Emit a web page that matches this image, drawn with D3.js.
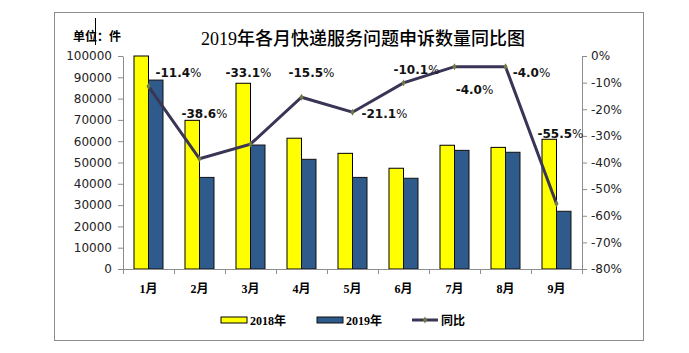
<!DOCTYPE html>
<html>
<head>
<meta charset="utf-8">
<script src="https://cdn.jsdelivr.net/npm/d3@7"></script>
<style>
  body { margin: 0; background: #fff; }
  svg text { font-family: "DejaVu Sans", sans-serif; }
</style>
</head>
<body>
<svg id="SVG_CONTAINER" width="689" height="353"></svg>
<script>
// data
const months = ["1月", "2月", "3月", "4月", "5月", "6月", "7月", "8月", "9月"];
const values2018 = [100000, 69800, 87200, 61400, 54300, 47300, 58100, 57100, 60900];
const values2019 = [88700, 43000, 58200, 51500, 43000, 42600, 55700, 54800, 27100];
const yoy = [-11.4, -38.6, -33.1, -15.5, -21.1, -10.1, -4.0, -4.0, -55.5];
const leftTicks = [0, 10000, 20000, 30000, 40000, 50000, 60000, 70000, 80000, 90000, 100000];
const rightTicks = [0, -10, -20, -30, -40, -50, -60, -70, -80];
const seriesNames = ["2018年", "2019年", "同比"];

// hand placed label offsets (dx, dy from point), like in the original
const labelOffsets = [[30, -9], [5, -41], [-2, -67], [10, -20], [32, 6], [13, -9], [20, 27], [26, 10], [4, -66]];

const MARGIN = {LEFT: 123, RIGHT: 107, TOP: 56, BOTTOM: 84};
const width = 689, height = 353;

let svg = d3.select("#SVG_CONTAINER");

// outer frame
svg.append("rect")
    .attr("x", 54.5).attr("y", 12.5)
    .attr("width", 589).attr("height", 328)
    .attr("fill", "#fff")
    .attr("stroke", "#8c8c8c");

//** SCALES *****************************************
let xScale = d3.scaleBand()
    .domain(months)
    .range([MARGIN.LEFT, width - MARGIN.RIGHT]);

let yScale = d3.scaleLinear()
    .domain([0, 100000])
    .range([height - MARGIN.BOTTOM, MARGIN.TOP]);

let y2Scale = d3.scaleLinear()
    .domain([-80, 0])
    .range([height - MARGIN.BOTTOM, MARGIN.TOP]);

let barW = 14.5;

//** BARS *****************************************
svg.append("g").selectAll("rect")
    .data(values2018)
    .enter().append("rect")
    .attr("x", (d, i) => xScale(months[i]) + xScale.bandwidth() / 2 - barW)
    .attr("y", d => yScale(d))
    .attr("width", barW)
    .attr("height", d => yScale(0) - yScale(d))
    .attr("fill", "#ffff00")
    .attr("stroke", "#000")
    .attr("stroke-width", 1);

svg.append("g").selectAll("rect")
    .data(values2019)
    .enter().append("rect")
    .attr("x", (d, i) => xScale(months[i]) + xScale.bandwidth() / 2)
    .attr("y", d => yScale(d))
    .attr("width", barW)
    .attr("height", d => yScale(0) - yScale(d))
    .attr("fill", "#2f5b8c")
    .attr("stroke", "#111")
    .attr("stroke-width", 1);

//** AXES *****************************************
let leftAxis = svg.append("g")
    .attr("transform", "translate(" + MARGIN.LEFT + ",0)")
    .call(d3.axisLeft(yScale).tickValues(leftTicks).tickSize(5).tickSizeOuter(0).tickPadding(6)
        .tickFormat(d3.format("d")));

let rightAxis = svg.append("g")
    .attr("transform", "translate(" + (width - MARGIN.RIGHT) + ",0)")
    .call(d3.axisRight(y2Scale).tickValues(rightTicks).tickSize(5).tickSizeOuter(0).tickPadding(4)
        .tickFormat(d => d + "%"));

[leftAxis, rightAxis].forEach(a => {
    a.selectAll("path, line").attr("stroke", "#8c8c8c");
    a.selectAll("text")
        .style("font-family", "'DejaVu Sans', sans-serif")
        .style("font-size", "12px")
        .attr("fill", "#222");
});

// x axis: line with ticks at category boundaries
let xAxisG = svg.append("g");
xAxisG.append("line")
    .attr("x1", MARGIN.LEFT).attr("x2", width - MARGIN.RIGHT)
    .attr("y1", yScale(0) + 0.5).attr("y2", yScale(0) + 0.5)
    .attr("stroke", "#8c8c8c");
xAxisG.selectAll(".xtick")
    .data(months.concat(["end"]))
    .enter().append("line")
    .attr("x1", (d, i) => MARGIN.LEFT + i * xScale.bandwidth() + 0.5)
    .attr("x2", (d, i) => MARGIN.LEFT + i * xScale.bandwidth() + 0.5)
    .attr("y1", yScale(0))
    .attr("y2", yScale(0) + 5)
    .attr("stroke", "#8c8c8c");
xAxisG.selectAll(".xlabel")
    .data(months)
    .enter().append("text")
    .attr("x", d => xScale(d) + xScale.bandwidth() / 2)
    .attr("y", yScale(0) + 24)
    .attr("text-anchor", "middle")
    .style("font-family", "'Liberation Serif', 'Noto Sans CJK SC', serif")
    .style("font-size", "12px")
    .style("font-weight", "bold")
    .text(d => d);

//** LINE *****************************************
let cx = (d, i) => xScale(months[i]) + xScale.bandwidth() / 2;
let line = d3.line()
    .x(cx)
    .y(d => y2Scale(d));

svg.append("path")
    .datum(yoy)
    .attr("d", line)
    .attr("fill", "none")
    .attr("stroke", "#3a3455")
    .attr("stroke-width", 3);

svg.append("g").selectAll("path")
    .data(yoy)
    .enter().append("path")
    .attr("d", d3.symbol(d3.symbolDiamond, 14))
    .attr("transform", (d, i) => "translate(" + cx(d, i) + "," + y2Scale(d) + ")")
    .attr("fill", "#6e7d44");

// data labels
svg.append("g").selectAll("text")
    .data(yoy)
    .enter().append("text")
    .attr("x", (d, i) => cx(d, i) + labelOffsets[i][0])
    .attr("y", (d, i) => y2Scale(d) + labelOffsets[i][1])
    .attr("text-anchor", "middle")
    .style("font-size", "12px")
    .attr("fill", "#111")
    .html(d => '<tspan font-weight="bold">' + d.toFixed(1) + '</tspan>%');

//** TITLE *****************************************
svg.append("text")
    .attr("x", 363).attr("y", 45)
    .attr("text-anchor", "middle")
    .style("font-family", "'Liberation Serif', 'Noto Sans CJK SC', serif")
    .style("font-size", "18px")
    .style("font-weight", "500")
    .text("2019年各月快递服务问题申诉数量同比图");

svg.append("text")
    .attr("x", 73).attr("y", 41)
    .style("font-family", "'Noto Sans CJK SC', sans-serif")
    .style("font-size", "12px")
    .style("font-weight", "bold")
    .text("单位：件");

svg.append("line")
    .attr("x1", 95.5).attr("x2", 95.5)
    .attr("y1", 18).attr("y2", 45)
    .attr("stroke", "#000");

//** LEGEND *****************************************
let legend = svg.append("g");
let legendX = [221, 317, 412];
legend.append("rect")
    .attr("x", legendX[0]).attr("y", 317).attr("width", 26).attr("height", 6)
    .attr("fill", "#ffff00").attr("stroke", "#000");
legend.append("rect")
    .attr("x", legendX[1]).attr("y", 317).attr("width", 26).attr("height", 6)
    .attr("fill", "#2f5b8c").attr("stroke", "#111");
legend.append("line")
    .attr("x1", legendX[2]).attr("x2", legendX[2] + 26)
    .attr("y1", 320).attr("y2", 320)
    .attr("stroke", "#3a3455").attr("stroke-width", 3);
legend.append("path")
    .attr("d", d3.symbol(d3.symbolDiamond, 14))
    .attr("transform", "translate(" + (legendX[2] + 13) + ",320)")
    .attr("fill", "#6e7d44");
legend.selectAll("text")
    .data(seriesNames)
    .enter().append("text")
    .attr("x", (d, i) => legendX[i] + 29)
    .attr("y", 325)
    .style("font-family", "'Liberation Serif', 'Noto Sans CJK SC', serif")
    .style("font-size", "12px")
    .style("font-weight", "bold")
    .text(d => d);
</script>
</body>
</html>
